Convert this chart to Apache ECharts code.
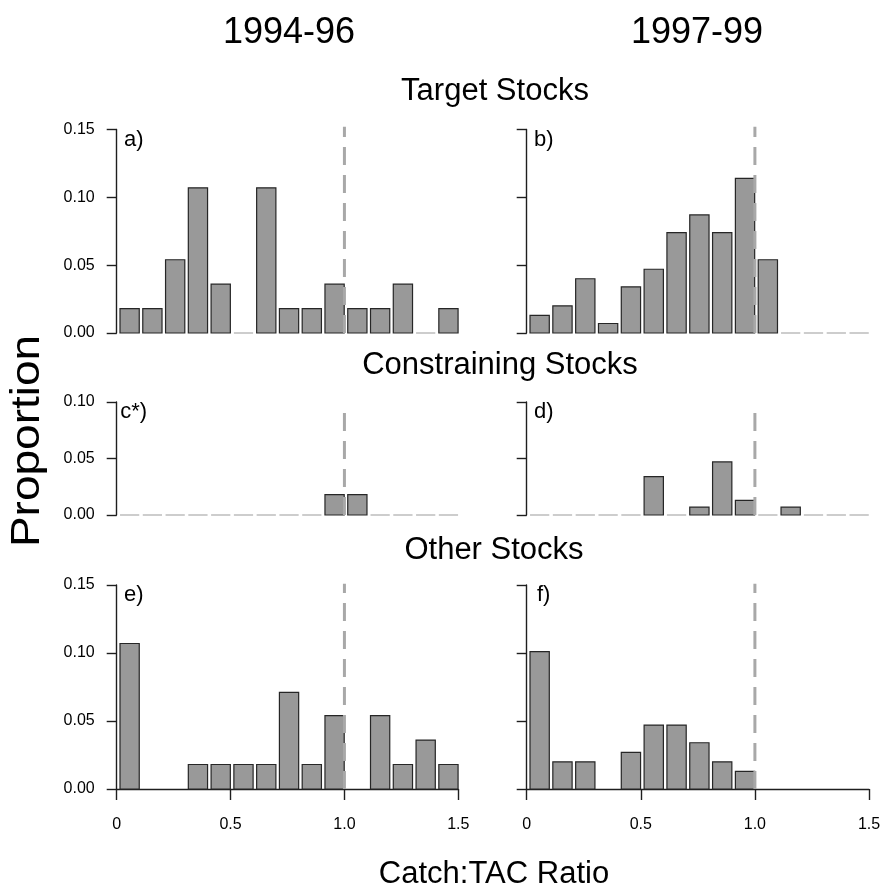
<!DOCTYPE html>
<html>
<head>
<meta charset="utf-8">
<script src="https://cdn.jsdelivr.net/npm/echarts@6/dist/echarts.min.js"></script>
<style>
html,body{margin:0;padding:0;background:#fff;}
#chart{width:883px;height:892px;}
</style>
</head>
<body>
<div id="chart"></div>
<script>
// ---------------- data ----------------
const binStarts = [0, 0.1, 0.2, 0.3, 0.4, 0.5, 0.6, 0.7, 0.8, 0.9, 1.0, 1.1, 1.2, 1.3, 1.4];
const binWidth = 0.1;
const target9496 = [0.018, 0.018, 0.054, 0.107, 0.036, 0, 0.107, 0.018, 0.018, 0.036, 0.018, 0.018, 0.036, 0, 0.018];
const target9799 = [0.013, 0.020, 0.040, 0.007, 0.034, 0.047, 0.074, 0.087, 0.074, 0.114, 0.054, 0, 0, 0, 0];
const constr9496 = [0, 0, 0, 0, 0, 0, 0, 0, 0, 0.018, 0.018, 0, 0, 0, 0];
const constr9799 = [0, 0, 0, 0, 0, 0.034, 0, 0.007, 0.047, 0.013, 0, 0.007, 0, 0, 0];
const other9496 = [0.107, 0, 0, 0.018, 0.018, 0.018, 0.018, 0.071, 0.018, 0.054, 0, 0.054, 0.018, 0.036, 0.018];
const other9799 = [0.101, 0.020, 0.020, 0, 0.027, 0.047, 0.047, 0.034, 0.020, 0.013, 0, 0, 0, 0, 0];
const refRatio = 1.0;
const xTicks = [0, 0.5, 1.0, 1.5];
const xTickLabels = ['0', '0.5', '1.0', '1.5'];
const yTickLabels = ['0.00', '0.05', '0.10', '0.15'];
const periodTitles = ['1994-96', '1997-99'];
const rowTitles = ['Target Stocks', 'Constraining Stocks', 'Other Stocks'];
const panelTags = ['a)', 'b)', 'c*)', 'd)', 'e)', 'f)'];
const yMaxes = [0.15, 0.15, 0.10, 0.10, 0.15, 0.15];
const refTops = [0.152, 0.152, 0.0915, 0.0915, 0.151, 0.151];
const panelData = [target9496, target9799, constr9496, constr9799, other9496, other9799];

// ---------------- layout ----------------
const FONT = '"Liberation Sans", Arial, Helvetica, sans-serif';
const boxes = [
  {left: 116.7, top: 129.5, width: 341.6, height: 203.5},
  {left: 526.7, top: 129.5, width: 342.3, height: 203.5},
  {left: 116.7, top: 402, width: 341.6, height: 113},
  {left: 526.7, top: 402, width: 342.3, height: 113},
  {left: 116.7, top: 585, width: 341.6, height: 204},
  {left: 526.7, top: 585, width: 342.3, height: 204}
];
const AX = '#1e1e1e';

const grids = [], xAxes = [], yAxes = [], series = [], graphics = [];
boxes.forEach((b, i) => {
  const isLeft = i % 2 === 0;
  const isBottom = i >= 4;
  grids.push({left: b.left, top: b.top, width: b.width, height: b.height, containLabel: false, outerBoundsMode: 'none'});
  xAxes.push({
    type: 'value', gridIndex: i, min: 0, max: 1.5, interval: 0.5,
    axisLine: {show: isBottom, onZero: false, lineStyle: {color: AX, width: 1.4}},
    axisTick: {show: isBottom, length: 11, inside: false, lineStyle: {color: AX, width: 1.4}},
    axisLabel: {
      show: isBottom, margin: 28, fontSize: 16, color: '#000', fontFamily: FONT,
      formatter: v => { const k = xTicks.findIndex(t => Math.abs(t - v) < 1e-9); return k >= 0 ? xTickLabels[k] : ''; }
    },
    splitLine: {show: false}
  });
  yAxes.push({
    type: 'value', gridIndex: i, min: 0, max: yMaxes[i], interval: 0.05,
    axisLine: {show: true, lineStyle: {color: AX, width: 1.4}},
    axisTick: {show: true, length: 10, inside: false, lineStyle: {color: AX, width: 1.4}},
    axisLabel: {
      show: isLeft, margin: 22, fontSize: 16, color: '#000', fontFamily: FONT,
      formatter: v => yTickLabels[Math.round(v / 0.05)]
    },
    splitLine: {show: false}
  });
  const vals = panelData[i];
  series.push({
    type: 'custom', xAxisIndex: i, yAxisIndex: i, z: 2, silent: true, clip: false,
    data: binStarts.map((s, k) => [s, vals[k]]),
    renderItem: (params, api) => {
      const s = api.value(0), v = api.value(1);
      const p0 = api.coord([s, 0]);
      const p1 = api.coord([s + binWidth, 0]);
      const pt = api.coord([s, v]);
      const band = p1[0] - p0[0];
      const l = p0[0] + band * 0.145;
      const r = p0[0] + band * 0.99;
      if (v === 0) {
        if (isBottom) return null;
        return {type: 'line', shape: {x1: l, y1: p0[1], x2: r, y2: p0[1]}, style: {stroke: '#bdbdbd', lineWidth: 1.5}};
      }
      return {type: 'rect', shape: {x: l, y: pt[1], width: r - l, height: p0[1] - pt[1]},
        style: {fill: '#999999', stroke: '#262626', lineWidth: 1.2}};
    }
  });
  series.push({
    type: 'line', xAxisIndex: i, yAxisIndex: i, z: 5, silent: true, clip: false,
    symbol: 'none', animation: false,
    data: [[refRatio, 0], [refRatio, refTops[i]]],
    lineStyle: {color: '#a8a8a8', width: 3, type: [18, 10]}
  });
  graphics.push({
    type: 'text', x: b.left + 17, y: b.top + 10,
    style: {text: panelTags[i], fontSize: 22, fontFamily: FONT, fill: '#000', align: 'center', verticalAlign: 'middle'}
  });
});

// titles
graphics.push({type: 'text', x: 289, y: 33, style: {text: periodTitles[0], fontSize: 36, fontFamily: FONT, fill: '#000', align: 'center', verticalAlign: 'middle'}});
graphics.push({type: 'text', x: 697, y: 33, style: {text: periodTitles[1], fontSize: 36, fontFamily: FONT, fill: '#000', align: 'center', verticalAlign: 'middle'}});
graphics.push({type: 'text', x: 495, y: 91, style: {text: rowTitles[0], fontSize: 31, fontFamily: FONT, fill: '#000', align: 'center', verticalAlign: 'middle'}});
graphics.push({type: 'text', x: 500, y: 365, style: {text: rowTitles[1], fontSize: 31, fontFamily: FONT, fill: '#000', align: 'center', verticalAlign: 'middle'}});
graphics.push({type: 'text', x: 494, y: 550, style: {text: rowTitles[2], fontSize: 31, fontFamily: FONT, fill: '#000', align: 'center', verticalAlign: 'middle'}});
graphics.push({type: 'text', x: 494, y: 874, style: {text: 'Catch:TAC Ratio', fontSize: 31, fontFamily: FONT, fill: '#000', align: 'center', verticalAlign: 'middle'}});
graphics.push({type: 'text', x: 28, y: 441, rotation: Math.PI / 2, scaleX: 1.15,
  style: {text: 'Proportion', fontSize: 40, fontFamily: FONT, fill: '#000', align: 'center', verticalAlign: 'middle'}});

const chart = echarts.init(document.getElementById('chart'), null, {renderer: 'canvas'});
chart.setOption({
  animation: false,
  backgroundColor: '#fff',
  grid: grids,
  xAxis: xAxes,
  yAxis: yAxes,
  series: series,
  graphic: graphics
});
</script>
</body>
</html>
